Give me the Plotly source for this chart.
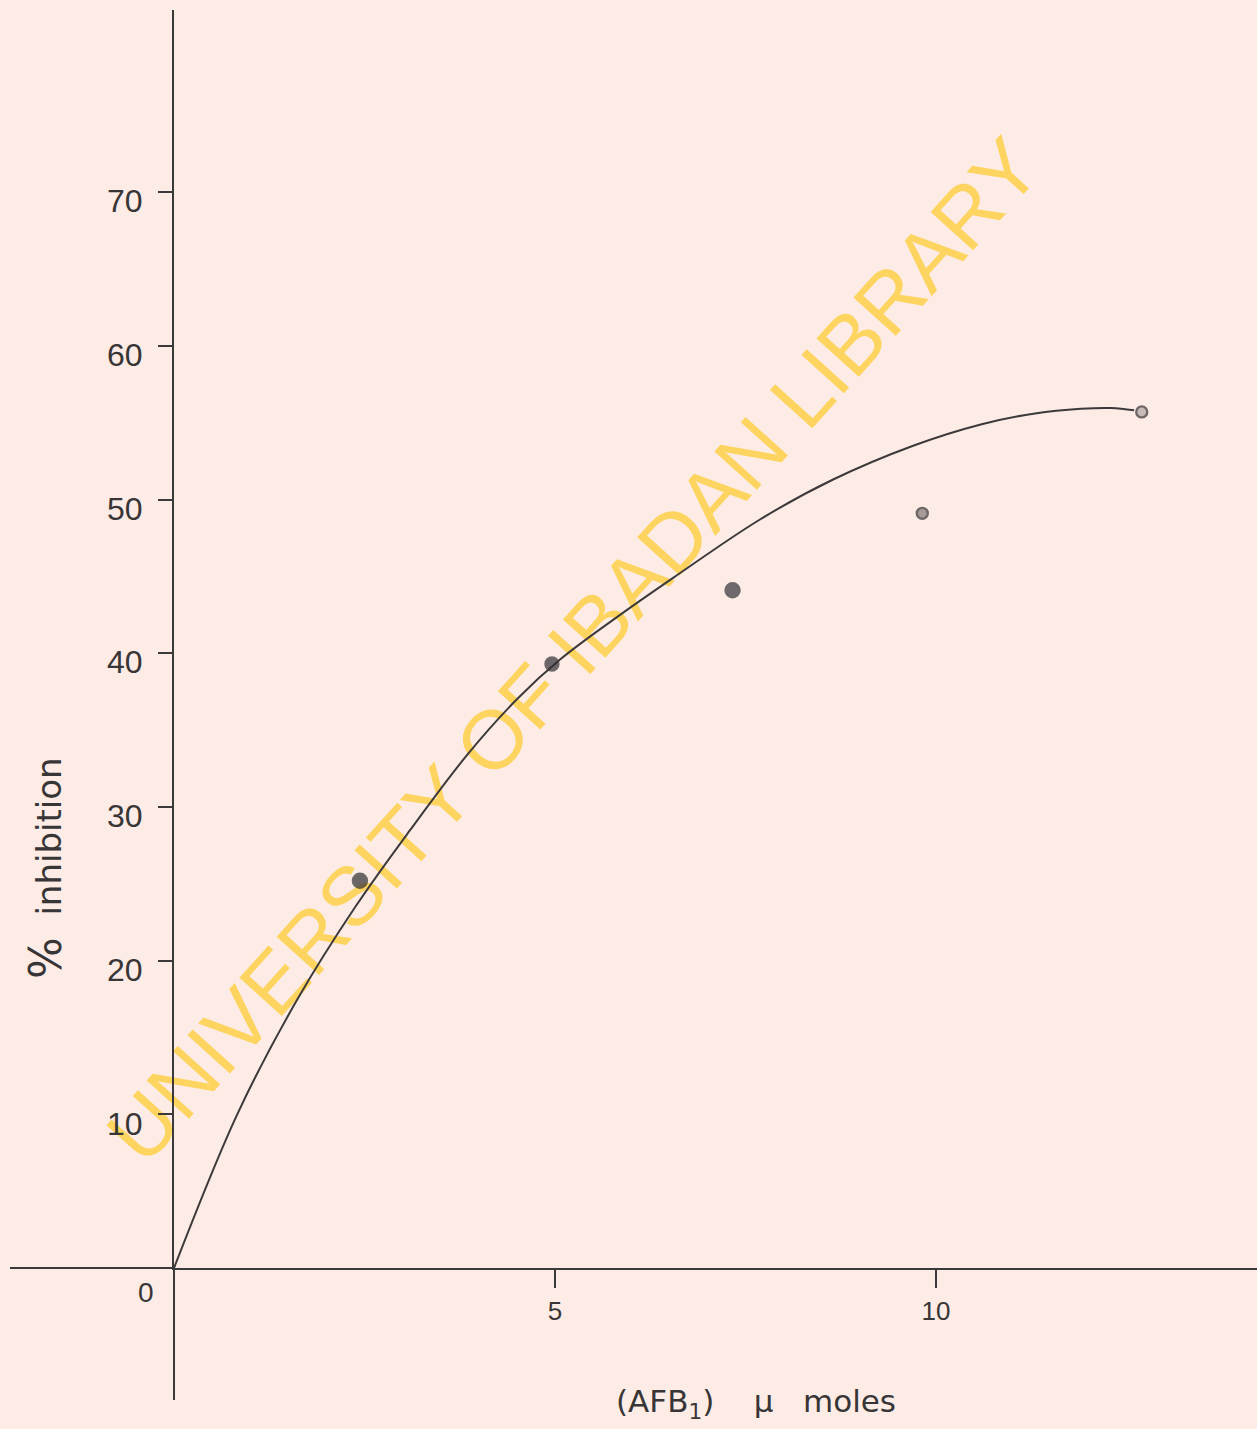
import plotly.graph_objects as go

# ---- data ----
afb_umoles = [2.44, 4.96, 7.33, 9.82, 12.70]
inhibition_pct = [25.2, 39.3, 44.1, 49.1, 55.7]

curve_x = [0, 0.83, 1.61, 2.38, 3.10, 3.85, 4.50, 5.07, 5.80, 6.55, 7.69, 8.65, 9.70, 10.60, 11.30, 11.90, 12.30, 12.60]
curve_y = [0, 10.0, 17.4, 23.5, 28.5, 33.4, 37.0, 39.6, 42.3, 44.9, 48.7, 51.3, 53.5, 54.9, 55.6, 55.9, 55.95, 55.8]

x_ticks = [5, 10]
x_tick_labels = ["5", "10"]
y_ticks = [10, 20, 30, 40, 50, 60, 70]
y_tick_labels = ["10", "20", "30", "40", "50", "60", "70"]

x_title = "(AFB<sub>1</sub>)    \u03bc   moles"
y_title = "<span style='font-size:44px'>%</span>  inhibition"
watermark = "UNIVERSITY OF IBADAN LIBRARY"

# ---- style ----
BG = "#fdece6"
INK = "#3c393a"
W, H = 1257, 1429
L, B, T, R = 174, 161, 10, 0
px_per_x = 76.2
px_per_y = 15.37
plot_w = W - L - R
plot_h = H - T - B
x_max = plot_w / px_per_x
y_max = plot_h / px_per_y


def px_to_paper(px, py):
    return (px - L) / plot_w, ((H - B) - py) / plot_h


fig = go.Figure()

fig.add_trace(go.Scatter(
    x=curve_x, y=curve_y, mode="lines",
    line=dict(color=INK, width=2, shape="spline", smoothing=1.0),
    hoverinfo="skip", showlegend=False, cliponaxis=False,
))

marker_fill = ["#2e2d33", "#2e2d33", "#34333a", "#857977", "#b3a6a3"]
marker_size = [14, 13, 14, 11, 11]
fig.add_trace(go.Scatter(
    x=afb_umoles, y=inhibition_pct, mode="markers",
    marker=dict(color=marker_fill, size=marker_size, line=dict(color="#333034", width=2.4)),
    showlegend=False, cliponaxis=False,
))

tick_font = dict(family="Liberation Sans Narrow, Liberation Sans, Arial, sans-serif", color="#383536")

fig.update_xaxes(
    range=[0, x_max], showgrid=False, zeroline=False,
    showline=True, linecolor=INK, linewidth=2,
    ticks="outside", ticklen=18, tickwidth=2, tickcolor=INK,
    tickvals=x_ticks, ticktext=x_tick_labels,
    tickfont=dict(size=26, **tick_font), ticklabelstandoff=1,
)
fig.update_yaxes(
    range=[0, y_max], showgrid=False, zeroline=False,
    showline=True, linecolor=INK, linewidth=2,
    ticks="outside", ticklen=14, tickwidth=2, tickcolor=INK,
    tickvals=y_ticks, ticktext=y_tick_labels,
    tickfont=dict(size=32, **tick_font), ticklabelstandoff=9,
    ticklabelshift=9,
)

# axis extensions beyond the origin (as in the hand-drawn figure)
fig.add_shape(type="line", xref="paper", yref="paper",
              x0=(10 - L) / plot_w, x1=0, y0=0, y1=0,
              line=dict(color=INK, width=2))
fig.add_shape(type="line", xref="paper", yref="paper",
              x0=0, x1=0, y0=-(1400 - (H - B)) / plot_h, y1=0,
              line=dict(color=INK, width=2))

# library watermark, drawn beneath the data as a labelled invisible line
wx0, wy0 = px_to_paper(100, 1163)
wx1, wy1 = px_to_paper(1035, 127)
fig.add_shape(type="line", xref="paper", yref="paper", layer="below",
              x0=wx0, y0=wy0, x1=wx1, y1=wy1,
              line=dict(color="rgba(0,0,0,0)", width=1),
              label=dict(text=watermark, textposition="middle", yanchor="middle",
                         padding=0,
                         font=dict(family="Liberation Sans, Arial, sans-serif",
                                   size=83, color="#fdd45f")))

# origin label
fig.add_annotation(x=0, y=0, xref="x", yref="y", text="0", showarrow=False,
                   xanchor="right", yanchor="top", xshift=-18, yshift=-7,
                   font=dict(size=28, **tick_font))

# axis titles
tx, ty = px_to_paper(756, 1403)
fig.add_annotation(x=tx, y=ty, xref="paper", yref="paper", text=x_title, showarrow=False,
                   xanchor="center", yanchor="middle",
                   font=dict(family="DejaVu Sans, sans-serif", size=31, color="#383536"))
tx, ty = px_to_paper(45, 868)
fig.add_annotation(x=tx, y=ty, xref="paper", yref="paper", text=y_title, showarrow=False,
                   textangle=-90, xanchor="center", yanchor="middle",
                   font=dict(family="DejaVu Sans, sans-serif", size=34, color="#383536"))

fig.update_layout(
    width=W, height=H,
    margin=dict(l=L, r=R, t=T, b=B, pad=0, autoexpand=False),
    paper_bgcolor=BG, plot_bgcolor="rgba(0,0,0,0)",
    showlegend=False,
)

fig.write_html(
    "out.html",
    config={"displayModeBar": False},
    post_script="document.body.style.margin='0';document.body.style.overflow='hidden';"
                "document.body.style.background='" + BG + "';",
)
